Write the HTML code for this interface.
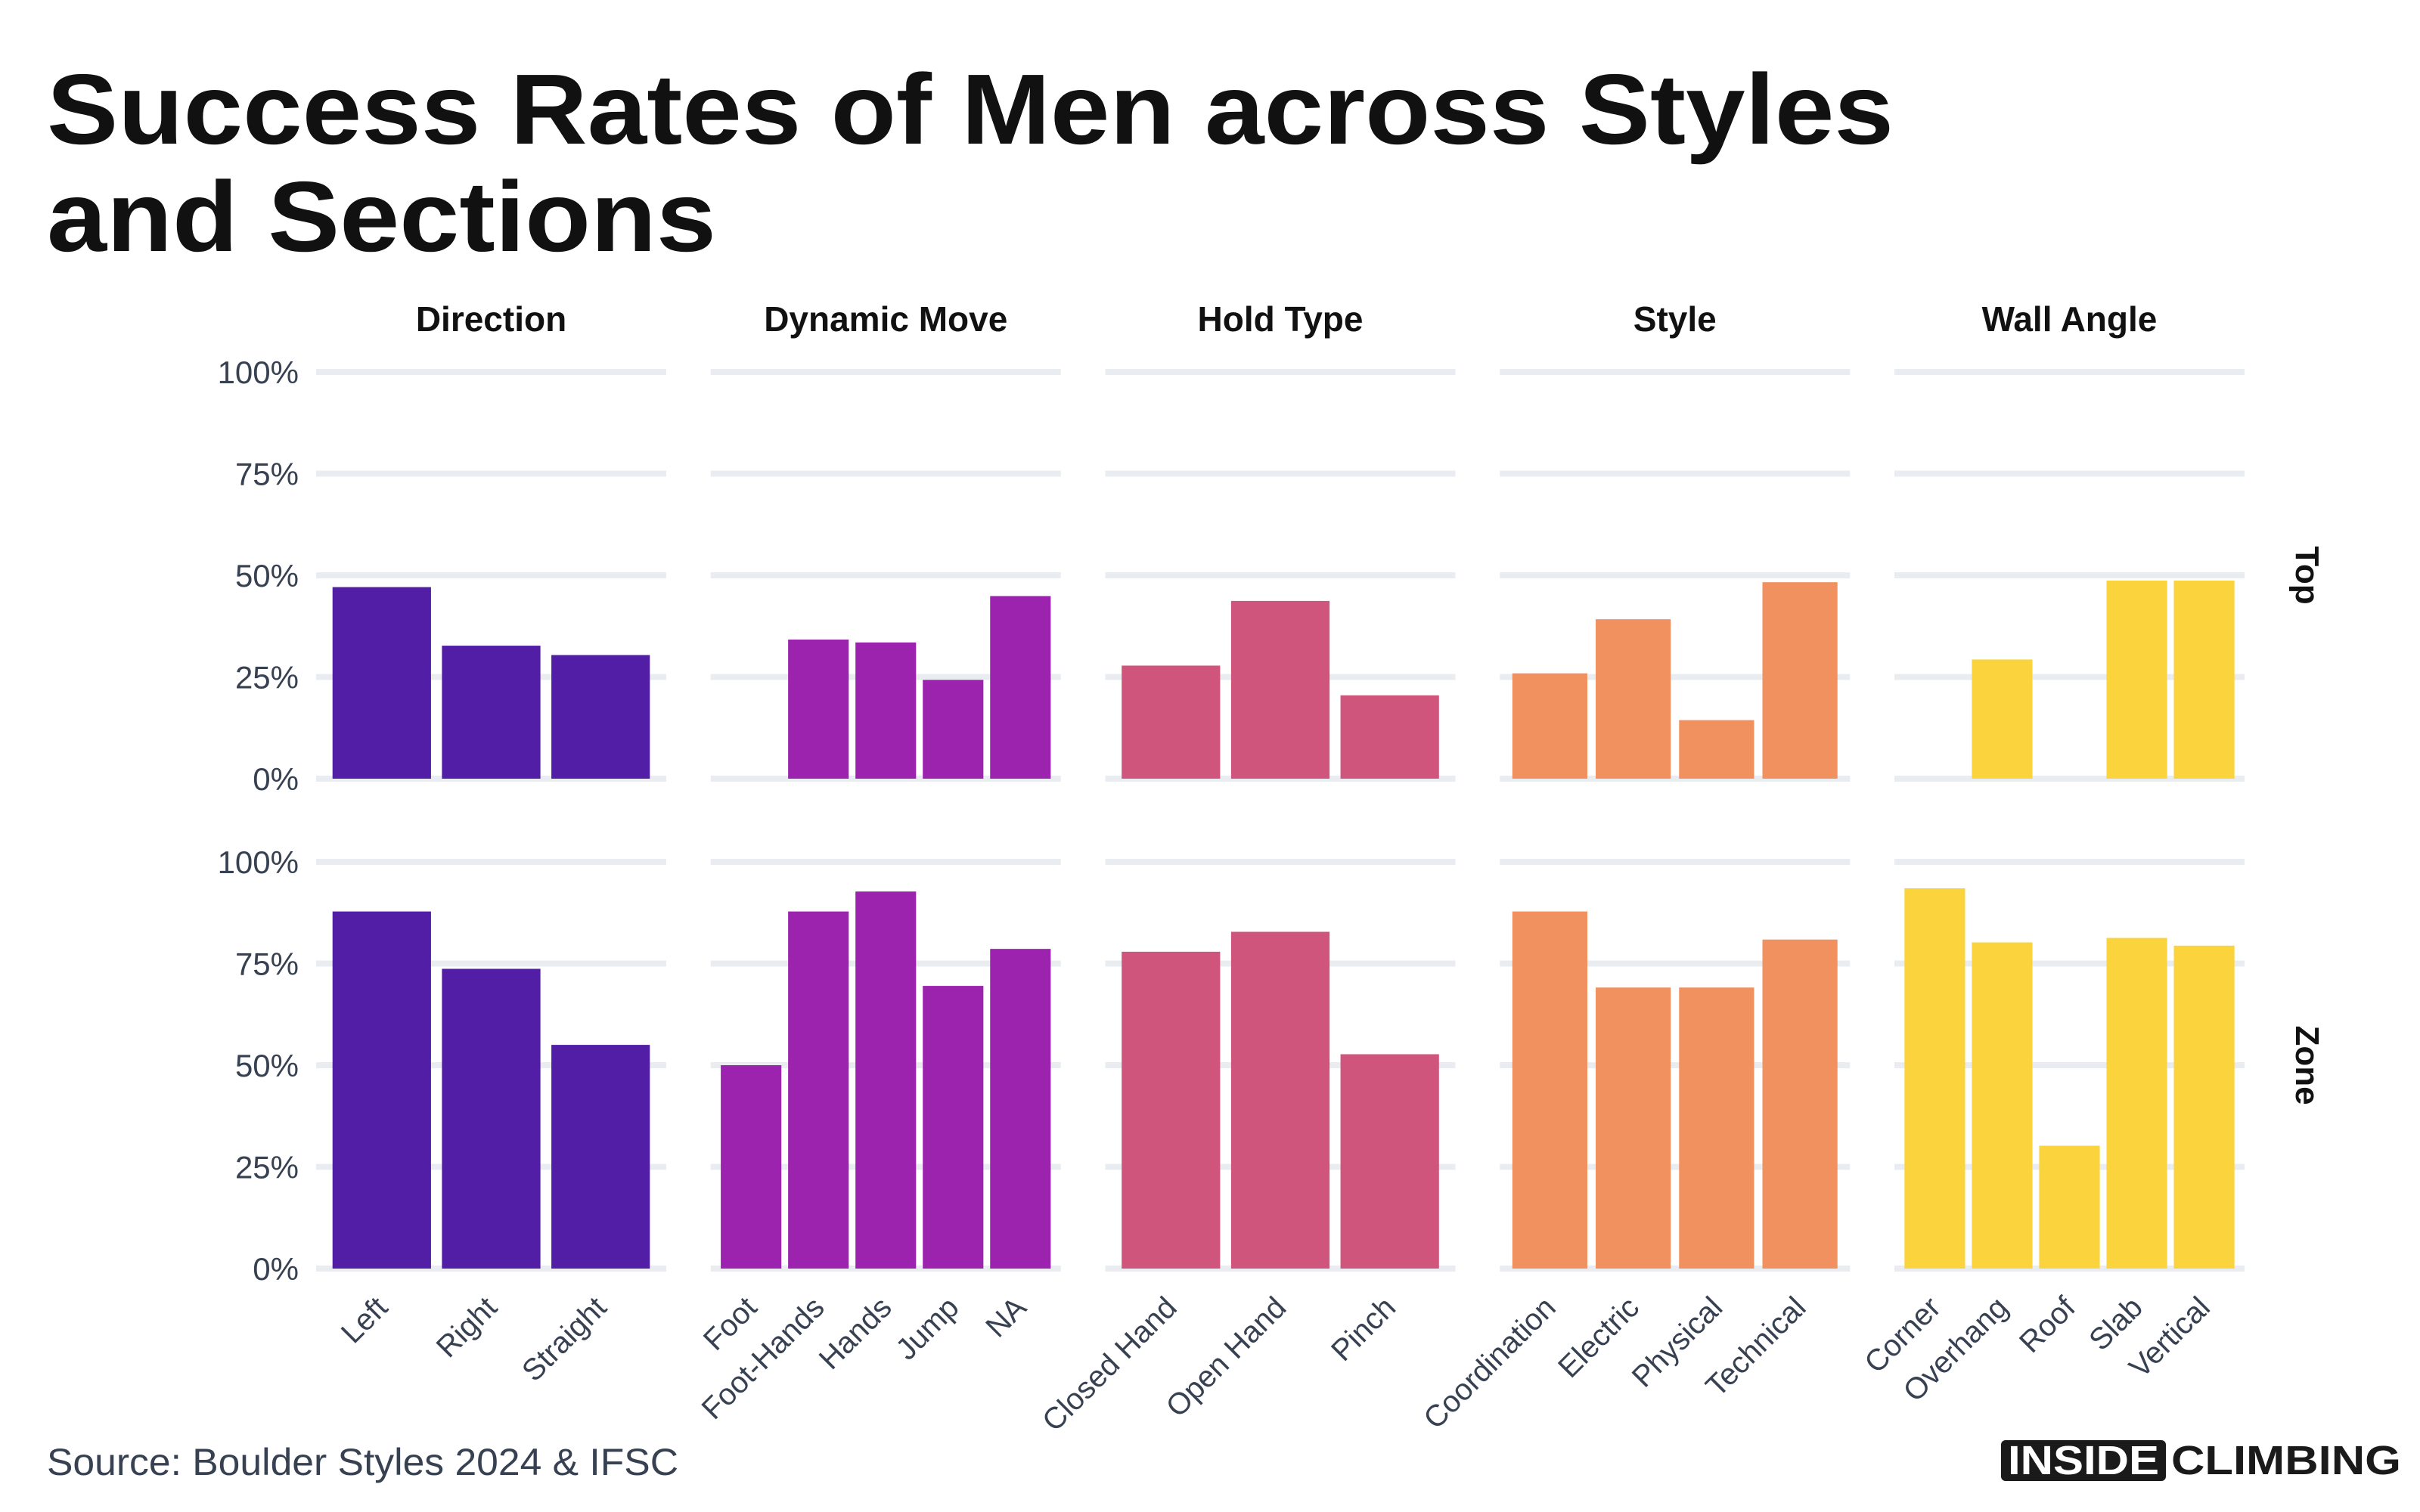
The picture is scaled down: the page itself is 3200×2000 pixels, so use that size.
<!DOCTYPE html>
<html><head><meta charset="utf-8">
<style>
html,body{margin:0;padding:0;background:#fff;width:3200px;height:2000px;overflow:hidden}
svg{display:block;font-family:"Liberation Sans",sans-serif}
</style></head>
<body>
<svg id="chart" width="3200" height="2000" viewBox="0 0 3200 2000" xmlns="http://www.w3.org/2000/svg">
<text x="62" y="190" font-size="132" font-weight="bold" fill="#111" textLength="2442" lengthAdjust="spacingAndGlyphs">Success Rates of Men across Styles</text>
<text x="62" y="332" font-size="132" font-weight="bold" fill="#111" textLength="885" lengthAdjust="spacingAndGlyphs">and Sections</text>
<text x="62" y="1951" font-size="50" fill="#374151" textLength="835" lengthAdjust="spacingAndGlyphs">Source: Boulder Styles 2024 &amp; IFSC</text>
<g>
<rect x="2646" y="1905" width="218" height="54" rx="6" fill="#1a1a1a"/>
<text x="2755" y="1950" font-size="54" font-weight="bold" fill="#fff" text-anchor="middle" textLength="200" lengthAdjust="spacingAndGlyphs">INSIDE</text>
<text x="2871" y="1950" font-size="54" font-weight="bold" fill="#1a1a1a" textLength="304" lengthAdjust="spacingAndGlyphs">CLIMBING</text>
</g>
<g id="plot"></g>
</svg>
<script>
const facets = ["Direction","Dynamic Move","Hold Type","Style","Wall Angle"];
const rows = ["Top","Zone"];
const colors = ["#521ea6","#9b23ae","#d0557d","#f1915f","#fbd33c"];
const cats0 = ["Left","Right","Straight"];
const cats1 = ["Foot","Foot-Hands","Hands","Jump","NA"];
const cats2 = ["Closed Hand","Open Hand","Pinch"];
const cats3 = ["Coordination","Electric","Physical","Technical"];
const cats4 = ["Corner","Overhang","Roof","Slab","Vertical"];
const top0 = [47.1,32.7,30.4];
const top1 = [0,34.2,33.5,24.3,44.9];
const top2 = [27.8,43.7,20.5];
const top3 = [25.9,39.2,14.4,48.3];
const top4 = [0,29.3,0,48.7,48.7];
const zone0 = [87.8,73.7,55.0];
const zone1 = [50.0,87.8,92.7,69.5,78.6];
const zone2 = [77.9,82.8,52.7];
const zone3 = [87.8,69.1,69.1,80.9];
const zone4 = [93.5,80.2,30.2,81.3,79.4];
const yTicks = [0,25,50,75,100];
const yTickLabels = ["0%","25%","50%","75%","100%"];

const cats = [cats0,cats1,cats2,cats3,cats4];
const vals = [[top0,top1,top2,top3,top4],[zone0,zone1,zone2,zone3,zone4]];
const NS = "http://www.w3.org/2000/svg";
const g = document.getElementById("plot");
const panelX0 = 418, panelW = 463, panelStep = 521.75;
const rowY0 = [1030, 1678], rowH = 538;
function yScale(r, v){ return rowY0[r] - v/100*rowH; }
function xBand(f, i, n){ const c = panelW/(n+0.2); return panelX0 + f*panelStep + c*(0.1+i) + c*0.05; }
function bandW(n){ return panelW/(n+0.2)*0.9; }
function mk(tag, attrs){ const e=document.createElementNS(NS,tag); for(const k in attrs) e.setAttribute(k,attrs[k]); g.appendChild(e); return e; }

for(let r=0;r<2;r++){
  for(let t=0;t<yTicks.length;t++){
    const y=yScale(r,yTicks[t]);
    const lab=mk("text",{x:395,y:y+15,"font-size":42,fill:"#374151","text-anchor":"end"});
    lab.textContent=yTickLabels[t];
    
    
    for(let f=0;f<5;f++){
      const gl=mk("rect",{x:panelX0+f*panelStep,y:y-4,width:panelW,height:8,fill:"#e9ecf0"});
      
      
    }
  }
  const rl=mk("text",{x:0,y:0,"font-size":44,"font-weight":"bold",fill:"#111","text-anchor":"middle",transform:`translate(3036,${rowY0[r]-rowH/2}) rotate(90)`});
  rl.textContent=rows[r];
  
  
}
for(let f=0;f<5;f++){
  const ft=mk("text",{x:panelX0+f*panelStep+panelW/2,y:438,"font-size":46,"font-weight":"bold",fill:"#111","text-anchor":"middle"});
  ft.textContent=facets[f];
  
  
  const n=cats[f].length, bw=bandW(n);
  for(let r=0;r<2;r++){
    for(let i=0;i<n;i++){
      const v=vals[r][f][i];
      if(!v) continue;
      const y=yScale(r,v);
      const b=mk("rect",{x:xBand(f,i,n),y:y,width:bw,height:rowY0[r]-y,fill:colors[f]});
      
      
    }
  }
  for(let i=0;i<n;i++){
    const cx=xBand(f,i,n)+bw/2+10;
    const xl=mk("text",{x:0,y:0,"font-size":40,fill:"#374151","text-anchor":"end",transform:`translate(${cx},1732) rotate(-45)`});
    xl.textContent=cats[f][i];
    
    
  }
}
</script>
</body></html>
